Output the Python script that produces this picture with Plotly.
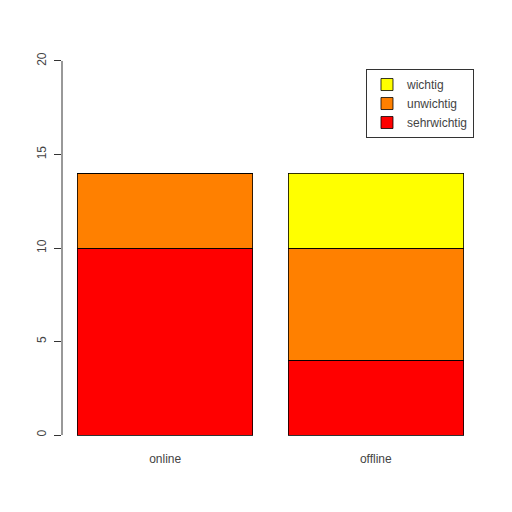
import plotly.graph_objects as go

categories = ["online", "offline"]
sehrwichtig = [10, 4]
unwichtig = [4, 6]
wichtig = [0, 4]
y_ticks = [0, 5, 10, 15, 20]

x_pos = [0.7, 1.9]
fig = go.Figure()
for name, vals, col in [("sehrwichtig", sehrwichtig, "#FF0000"),
                        ("unwichtig", unwichtig, "#FF8000"),
                        ("wichtig", wichtig, "#FFFF00")]:
    fig.add_trace(go.Bar(x=x_pos, y=vals, name=name, width=1.0,
                         marker=dict(color=col, line=dict(color="#000000", width=0.8))))

fig.update_layout(
    barmode="stack",
    width=512, height=512,
    margin=dict(l=53.5, r=40.5, t=38, b=70, pad=0),
    paper_bgcolor="white", plot_bgcolor="white",
    font=dict(family="Liberation Sans, Arial, sans-serif", size=12, color="#444444"),
    showlegend=True,
    legend=dict(x=0.988, y=0.943, xanchor="right", yanchor="top",
                traceorder="reversed", bordercolor="#333333", borderwidth=1,
                bgcolor="white", font=dict(size=12, color="#444444"),
                itemwidth=30, tracegroupgap=0),
    xaxis=dict(range=[0.112, 2.488], showgrid=False, zeroline=False, showline=False,
               tickvals=x_pos, ticktext=categories, ticks="", fixedrange=True),
    yaxis=dict(range=[-0.8, 20.8], showgrid=False, zeroline=False, showline=False,
               tickvals=y_ticks, ticks="outside", ticklen=7, tickcolor="#333333",
               tickwidth=1, tickangle=-90, ticklabelstandoff=3),
)
fig.add_shape(type="line", xref="paper", yref="y", x0=0, x1=0, y0=0, y1=20,
              line=dict(color="#333333", width=1))
fig.write_html("out.html")
